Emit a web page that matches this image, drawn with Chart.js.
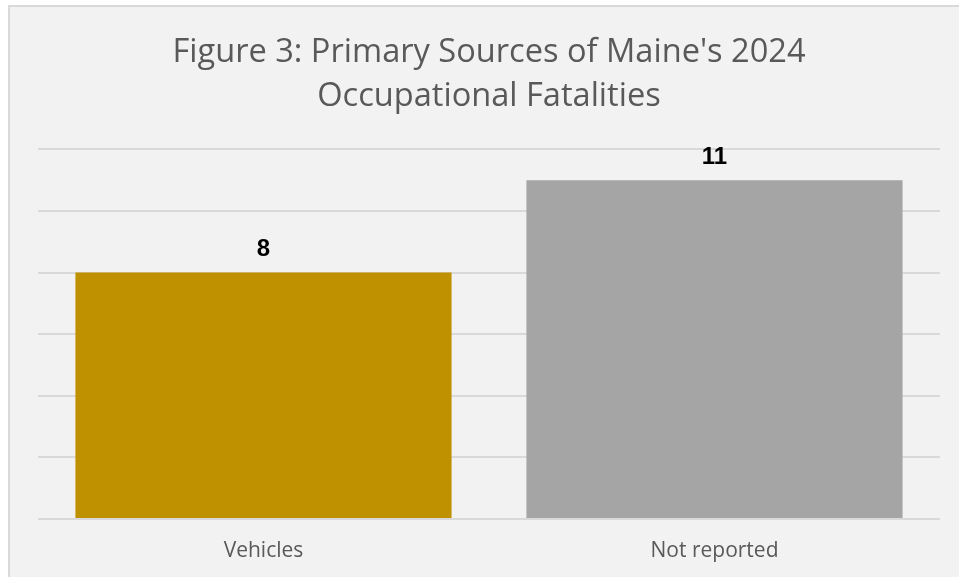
<!DOCTYPE html>
<html>
<head>
<meta charset="utf-8">
<script src="https://cdn.jsdelivr.net/npm/chart.js@4/dist/chart.umd.min.js"></script>
<style>
  html, body { margin: 0; padding: 0; background: #ffffff; }
  #wrap { position: relative; width: 959px; height: 577px; }
</style>
</head>
<body>
<div id="wrap"><canvas id="chart" width="959" height="577"></canvas></div>
<script>
// data
const categories = ['Vehicles', 'Not reported'];
const fatalities = [8, 11];
const barColors = ['#bf9000', '#a5a5a5'];
const titleLines = ["Figure 3: Primary Sources of Maine's 2024", 'Occupational Fatalities'];

// background panel + border like the spreadsheet chart frame
const framePlugin = {
    id: 'frame',
    beforeDraw(chart) {
        const c = chart.ctx;
        c.save();
        c.fillStyle = '#ffffff';
        c.fillRect(0, 0, chart.width, chart.height);
        c.fillStyle = '#f2f2f2';
        c.fillRect(9, 6, chart.width - 9, chart.height - 6);
        c.strokeStyle = '#d9d9d9';
        c.lineWidth = 2;
        c.beginPath();
        c.moveTo(9, chart.height);
        c.lineTo(9, 6);
        c.lineTo(chart.width, 6);
        c.stroke();
        c.restore();
    }
};

// value labels above bars
const valueLabels = {
    id: 'valueLabels',
    afterDatasetsDraw(chart) {
        const c = chart.ctx;
        const meta = chart.getDatasetMeta(0);
        c.save();
        c.font = 'bold 24px "Liberation Sans", Arial, sans-serif';
        c.fillStyle = '#000000';
        c.textAlign = 'center';
        c.textBaseline = 'middle';
        meta.data.forEach((bar, i) => {
            c.fillText(String(fatalities[i]), bar.x, bar.y - 23);
        });
        c.restore();
    }
};

new Chart(document.getElementById('chart'), {
    type: 'bar',
    data: {
        labels: categories,
        datasets: [{
            data: fatalities,
            backgroundColor: barColors,
            borderWidth: 0,
            barPercentage: 0.834,
            categoryPercentage: 1.0
        }]
    },
    options: {
        responsive: false,
        animation: false,
        layout: { padding: { left: 38, right: 19, top: 0, bottom: 0 } },
        plugins: {
            legend: { display: false },
            tooltip: { enabled: false },
            title: {
                display: true,
                text: titleLines,
                color: '#595959',
                font: { family: '"Open Sans", sans-serif', size: 32.6, weight: 'normal', lineHeight: 1.37 },
                padding: { top: 30, bottom: 30 }
            }
        },
        scales: {
            x: {
                grid: { display: false, drawTicks: false, tickLength: 0 },
                border: { display: false },
                ticks: {
                    color: '#595959',
                    font: { family: '"Open Sans", sans-serif', size: 21 },
                    padding: 19,
                    maxRotation: 0
                },
                afterFit(scale) { scale.height = 58; }
            },
            y: {
                min: 0,
                max: 12,
                grid: { color: '#d9d9d9', lineWidth: 2, drawTicks: false },
                border: { display: false },
                ticks: { display: false, stepSize: 2 }
            }
        }
    },
    plugins: [framePlugin, valueLabels]
});
</script>
</body>
</html>
